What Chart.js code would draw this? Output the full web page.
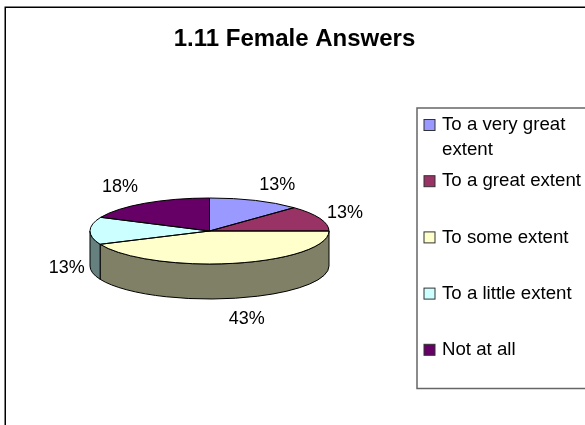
<!DOCTYPE html>
<html>
<head>
<meta charset="utf-8">
<title>1.11 Female Answers</title>
<script src="https://cdn.jsdelivr.net/npm/chart.js@4"></script>
<style>
  html, body { margin: 0; padding: 0; background: #fff; }
  canvas { display: block; }
</style>
</head>
<body>
<canvas id="chart" width="585" height="425"></canvas>
<script>
const chartTitle = "1.11 Female Answers";
const categories = ["To a very great extent", "To a great extent", "To some extent", "To a little extent", "Not at all"];
const answerValues = [12.5, 12.5, 43.4, 13.4, 18.2];
const sliceColors = ["#9999FF", "#993366", "#FFFFCC", "#CCFFFF", "#660066"];
const wallColors = ["#4D4D80", "#4D1A33", "#808066", "#668080", "#330033"];

const FONT = "'Liberation Sans', Arial, sans-serif";
const TILT = 33 / 119.5;   // squash of the pie ellipse
const DEPTH = 35;
// where each % label sits, relative to the rim point of its slice
const labelNudge = [[22, -15.5], [25, -5], [12.6, 20.7], [-23.3, 37], [-24.8, -16]];

function rim(arc, angle, drop) {
    return {
        x: arc.x + Math.cos(angle) * arc.outerRadius,
        y: arc.y + Math.sin(angle) * arc.outerRadius * TILT + drop
    };
}

function drawWalls(ctx, arcs) {
    ctx.lineWidth = 1;
    ctx.strokeStyle = "#000";
    arcs.forEach((arc, i) => {
        const a0 = Math.max(arc.startAngle, 0);
        const a1 = Math.min(arc.endAngle, Math.PI);
        if (a1 <= a0) return;
        const ry = arc.outerRadius * TILT;
        const end = rim(arc, a1, DEPTH);
        ctx.beginPath();
        ctx.ellipse(arc.x, arc.y, arc.outerRadius, ry, 0, a0, a1);
        ctx.lineTo(end.x, end.y);
        ctx.ellipse(arc.x, arc.y + DEPTH, arc.outerRadius, ry, 0, a1, a0, true);
        ctx.closePath();
        ctx.fillStyle = wallColors[i];
        ctx.fill();
        ctx.stroke();
    });
}

function drawOutlines(ctx, arcs) {
    ctx.lineWidth = 1;
    ctx.strokeStyle = "#000";
    arcs.forEach(arc => {
        ctx.beginPath();
        ctx.moveTo(arc.x, arc.y);
        ctx.ellipse(arc.x, arc.y, arc.outerRadius, arc.outerRadius * TILT, 0, arc.startAngle, arc.endAngle);
        ctx.closePath();
        ctx.stroke();
    });
}

function drawLabels(ctx, arcs) {
    ctx.font = "18px " + FONT;
    ctx.fillStyle = "#000";
    ctx.textAlign = "center";
    ctx.textBaseline = "middle";
    arcs.forEach((arc, i) => {
        const mid = (arc.startAngle + arc.endAngle) / 2;
        const p = rim(arc, mid, mid > 0 && mid < Math.PI ? DEPTH : 0);
        ctx.fillText(Math.round(answerValues[i]) + "%", p.x + labelNudge[i][0], p.y + labelNudge[i][1]);
    });
}

function wrapLabel(ctx, text, maxWidth) {
    const lines = [];
    let line = "";
    text.split(" ").forEach(word => {
        const next = line ? line + " " + word : word;
        if (ctx.measureText(next).width > maxWidth && line) {
            lines.push(line);
            line = word;
        } else {
            line = next;
        }
    });
    lines.push(line);
    return lines;
}

function drawLegend(ctx) {
    // box runs off the right side of the picture, same as the original
    ctx.strokeStyle = "#666";
    ctx.lineWidth = 1.5;
    ctx.strokeRect(417, 108, 180, 280.5);

    ctx.font = "18.67px " + FONT;
    ctx.textAlign = "left";
    ctx.textBaseline = "middle";
    categories.forEach((name, i) => {
        const y = 125 + i * 56.2;
        ctx.fillStyle = sliceColors[i];
        ctx.fillRect(424, y - 5.5, 11, 11);
        ctx.strokeStyle = "#333";
        ctx.lineWidth = 1;
        ctx.strokeRect(424, y - 5.5, 11, 11);
        ctx.fillStyle = "#000";
        wrapLabel(ctx, name, 142).forEach((line, n) => {
            ctx.fillText(line, 442, y + n * 25);
        });
    });
}

function drawFrame(ctx) {
    ctx.strokeStyle = "#000";
    ctx.lineWidth = 1.5;
    ctx.beginPath();
    ctx.moveTo(5.25, 425);
    ctx.lineTo(5.25, 7.25);
    ctx.lineTo(585, 7.25);
    ctx.stroke();
}

const pie3d = {
    id: "pie3d",
    afterLayout(chart) {
        // title is centred over the whole chart, not over the pie
        chart.titleBlock.left = 0;
        chart.titleBlock.right = 589;
    },
    beforeDatasetsDraw(chart) {
        drawWalls(chart.ctx, chart.getDatasetMeta(0).data);
    },
    beforeDatasetDraw(chart) {
        const ctx = chart.ctx;
        const cy = chart.getDatasetMeta(0).data[0].y;
        ctx.save();
        ctx.translate(0, cy);
        ctx.scale(1, TILT);
        ctx.translate(0, -cy);
    },
    afterDatasetDraw(chart) {
        chart.ctx.restore();
    },
    afterDatasetsDraw(chart) {
        const ctx = chart.ctx;
        const arcs = chart.getDatasetMeta(0).data;
        ctx.save();
        drawOutlines(ctx, arcs);
        drawLabels(ctx, arcs);
        drawLegend(ctx);
        drawFrame(ctx);
        ctx.restore();
    }
};

new Chart(document.getElementById("chart"), {
    type: "pie",
    data: {
        labels: categories,
        datasets: [{
            data: answerValues,
            backgroundColor: sliceColors,
            borderWidth: 0
        }]
    },
    options: {
        responsive: false,
        animation: false,
        layout: { padding: { left: 90, right: 256, top: 24.6, bottom: 74.5 } },
        plugins: {
            legend: { display: false },
            tooltip: { enabled: false },
            title: {
                display: true,
                text: chartTitle,
                color: "#000",
                font: { family: FONT, size: 24, weight: "bold" },
                padding: { top: 0, bottom: 58.1 }
            }
        }
    },
    plugins: [pie3d]
});
</script>
</body>
</html>
